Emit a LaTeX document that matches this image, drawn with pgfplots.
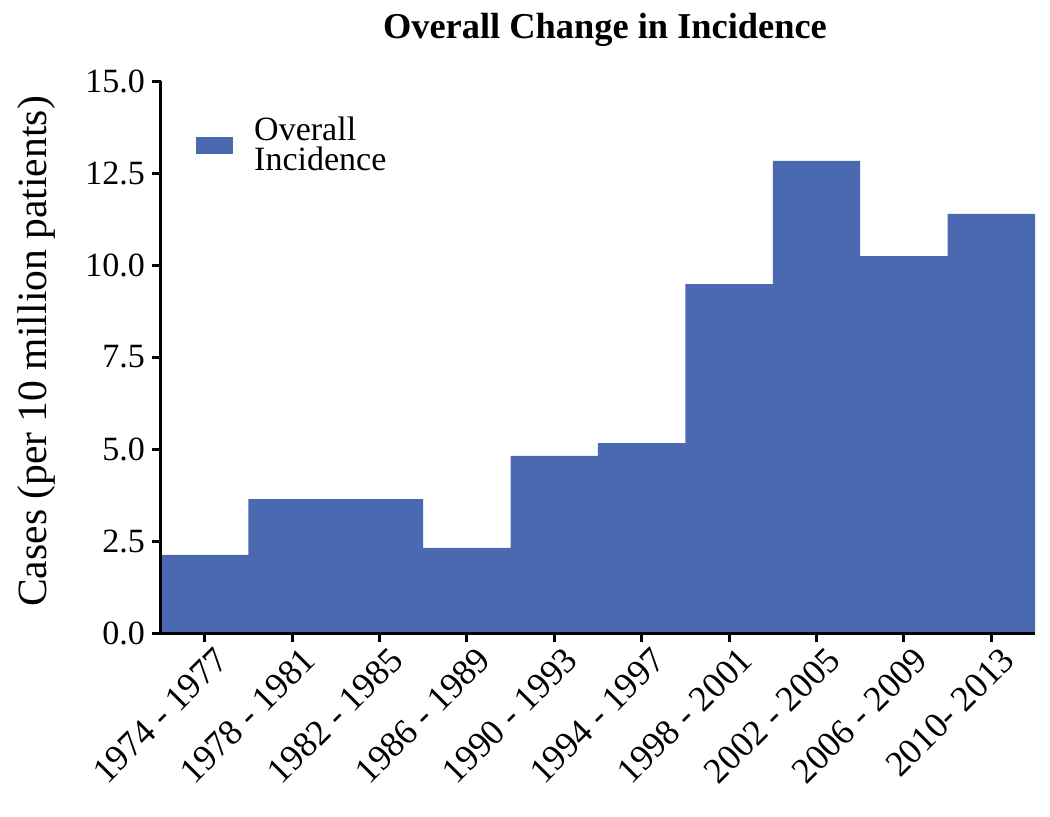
\documentclass[border=0pt]{standalone}
\usepackage{fontspec}
\setmainfont{Liberation Serif}
\usepackage{pgfplots}
\pgfplotsset{compat=1.18}
\definecolor{barblue}{RGB}{75,105,177}
\begin{document}
\begin{tikzpicture}
\useasboundingbox (-80.5pt,-91.5pt) rectangle (444.5pt,316.5pt);
\begin{axis}[
  at={(0,0)}, anchor=south west,
  width=437pt, height=276pt, scale only axis,
  xmin=-0.5, xmax=9.5, ymin=0, ymax=15,
  axis lines*=left,
  axis line style={line width=1.5pt},
  every tick/.style={line width=1.5pt, black},
  tick align=outside, major tick length=4.5pt,
  xtick={0,...,9},
  xticklabels={1974 - 1977,1978 - 1981,1982 - 1985,1986 - 1989,1990 - 1993,1994 - 1997,1998 - 2001,2002 - 2005,2006 - 2009,2010- 2013},
  xticklabel style={rotate=45, anchor=north east, font=\fontsize{18}{20}\selectfont, inner sep=2pt, xshift=4pt, yshift=-2pt},
  ytick={0,2.5,...,15},
  yticklabel style={font=\fontsize{17}{20}\selectfont},
  /pgf/number format/assume math mode=true,
  /pgf/number format/.cd, fixed, fixed zerofill, precision=1, /pgfplots/.cd,
  ylabel={Cases (per 10 million patients)},
  ylabel style={at={(axis description cs:-0.142,0.51)}, anchor=center, rotate=0, font=\fontsize{20.8}{24}\selectfont},
  title={\textbf{Overall Change in Incidence}},
  title style={at={(axis description cs:0.508,1)}, anchor=base, yshift=15.5pt, font=\fontsize{18.2}{22}\selectfont},
  ybar, bar width=1, bar shift=0,
  axis on top,
  legend style={at={(axis description cs:0.033,0.884)}, anchor=west, draw=none, fill=none,
    font=\fontsize{17}{15}\selectfont, nodes={align=left, inner sep=0pt}, row sep=0pt,
    /tikz/every odd column/.append style={column sep=10.5pt}},
  legend cell align=left,
  legend image code/.code={\fill[barblue] (0pt,-4.25pt) rectangle (18.5pt,4.25pt);},
]
\addplot[fill=barblue, draw=none] coordinates {
 (0,2.12) (1,3.64) (2,3.64) (3,2.31) (4,4.81) (5,5.16) (6,9.48) (7,12.83) (8,10.24) (9,11.39)};
\addlegendentry{Overall\\Incidence}
\end{axis}
\end{tikzpicture}
\end{document}
